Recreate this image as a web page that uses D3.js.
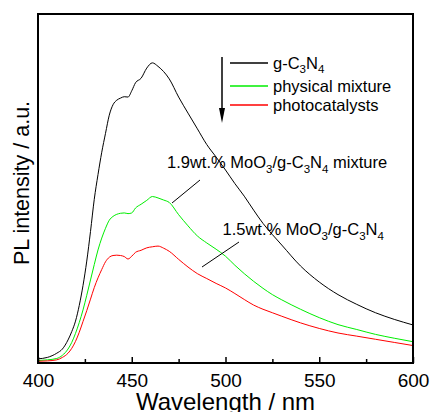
<!DOCTYPE html>
<html>
<head>
<meta charset="utf-8">
<script src="https://cdn.jsdelivr.net/npm/d3@7"></script>
<style>
  body { margin: 0; background: #fff; }
  svg { display: block; }
  text { font-family: "Liberation Sans", Arial, sans-serif; }
</style>
</head>
<body>
<svg id="chart" width="432" height="412"></svg>
<script>
// wavelength samples (nm)
const wavelength = [400, 405, 410, 413, 416, 418, 420, 422, 424, 426, 428, 430, 432, 434, 436, 438, 440, 442, 444, 446, 448, 450, 452, 455, 458, 461, 464, 467, 470, 475, 480, 485, 490, 495, 500, 505, 510, 515, 520, 525, 530, 540, 550, 560, 570, 580, 590, 600];

// PL intensity (a.u., 0..100 = frame height)
const gC3N4 = [1.2, 1.6, 2.8, 4.0, 6.6, 9.0, 12.0, 16.5, 22.2, 29.2, 37.7, 46.9, 54.0, 60.4, 65.8, 71.0, 74.0, 75.3, 75.9, 76.3, 76.2, 78.0, 80.3, 81.6, 84.5, 86.0, 85.0, 83.5, 81.4, 76.2, 71.6, 67.1, 62.6, 59.0, 55.3, 51.4, 47.8, 43.8, 40.0, 36.8, 33.8, 27.8, 23.2, 19.6, 16.8, 14.4, 12.5, 10.9];
const physicalMixture = [0.7, 0.9, 1.3, 2.2, 4.0, 5.9, 8.5, 11.6, 15.2, 19.4, 23.8, 28.2, 32.4, 35.8, 38.6, 40.9, 42.0, 42.6, 42.9, 43.0, 42.8, 43.0, 44.4, 45.5, 46.6, 47.7, 47.3, 46.7, 46.0, 42.5, 39.3, 36.4, 34.4, 32.6, 30.6, 28.0, 25.6, 23.4, 21.4, 19.6, 18.1, 15.4, 13.0, 11.0, 9.6, 8.2, 7.1, 6.1];
const photocatalysts = [0.5, 0.6, 0.9, 1.6, 2.8, 4.2, 6.2, 8.8, 11.9, 15.0, 18.3, 21.6, 24.4, 26.8, 29.0, 30.3, 30.8, 30.9, 30.8, 30.5, 29.8, 30.6, 31.7, 32.3, 33.0, 33.3, 33.5, 32.9, 32.0, 29.7, 27.5, 25.6, 24.2, 22.8, 21.5, 19.9, 18.2, 16.6, 15.4, 14.4, 13.4, 11.5, 9.9, 8.6, 7.7, 6.8, 5.9, 5.0];

const seriesNames = ["g-C3N4", "physical mixture", "photocatalysts"];
const seriesColors = ["#000000", "#00ee00", "#ff0000"];
const majorTicks = [400, 450, 500, 550, 600];
const minorTicks = [425, 475, 525, 575];

const svg = d3.select("#chart");
const mLeft = 38, mRight = 413, mTop = 14, mBottom = 363;
const FONT = "Liberation Sans, Arial, sans-serif";

const x = d3.scaleLinear().domain([400, 600]).range([mLeft, mRight]);
const y = d3.scaleLinear().domain([0, 100]).range([mBottom, mTop]);

// curves
const line = d3.line()
  .x((d, i) => x(wavelength[i]))
  .y(d => y(d))
  .curve(d3.curveMonotoneX);

[gC3N4, physicalMixture, photocatalysts].forEach((vals, k) => {
  svg.append("path")
    .attr("d", line(vals))
    .attr("fill", "none")
    .attr("stroke", seriesColors[k])
    .attr("stroke-width", 1)
    .attr("stroke-linejoin", "round");
});

// x axis, ticks pointing inward
const gx = svg.append("g").attr("transform", `translate(0,${mBottom})`)
  .call(d3.axisBottom(x).tickValues(majorTicks).tickSize(-6).tickPadding(11).tickFormat(d3.format("d")));
gx.select(".domain").remove();
gx.selectAll("line").attr("stroke", "#000").attr("stroke-width", 1.5);
gx.selectAll("text").attr("font-size", 19).attr("fill", "#000").attr("font-family", FONT);

const gm = svg.append("g").attr("transform", `translate(0,${mBottom})`)
  .call(d3.axisBottom(x).tickValues(minorTicks).tickSize(-4).tickFormat(""));
gm.select(".domain").remove();
gm.selectAll("line").attr("stroke", "#000").attr("stroke-width", 1.5);

// frame
svg.append("rect")
  .attr("x", mLeft).attr("y", mTop)
  .attr("width", mRight - mLeft).attr("height", mBottom - mTop)
  .attr("fill", "none").attr("stroke", "#000").attr("stroke-width", 2);

// axis titles
svg.append("text")
  .attr("x", (mLeft + mRight) / 2).attr("y", 409.5)
  .attr("text-anchor", "middle").attr("font-size", 24).attr("font-family", FONT)
  .text("Wavelength / nm");

svg.append("text")
  .attr("transform", `translate(28.5,183) rotate(-90)`)
  .attr("text-anchor", "middle").attr("font-size", 21.5).attr("font-family", FONT)
  .text("PL intensity / a.u.");

// text with subscripts: parts = [[text, isSub], ...]
function richText(g, px, py, parts, size) {
  const t = g.append("text").attr("x", px).attr("y", py)
    .attr("font-size", size).attr("font-family", FONT);
  let sub = false;
  parts.forEach(([s, isSub]) => {
    const ts = t.append("tspan").text(s);
    if (isSub) ts.attr("font-size", size * 0.7);
    if (isSub && !sub) ts.attr("dy", 4.5);
    else if (!isSub && sub) ts.attr("dy", -4.5);
    sub = isSub;
  });
  return t;
}

// legend with arrow
const legendY = [63, 86, 105];
const lg = svg.append("g");
lg.append("line").attr("x1", 222).attr("x2", 222).attr("y1", 57).attr("y2", 110)
  .attr("stroke", "#000").attr("stroke-width", 1.5);
lg.append("path").attr("d", "M219,108 L225,108 L222,123 Z").attr("fill", "#000");

const legendLabels = [
  [["g-C", false], ["3", true], ["N", false], ["4", true]],
  [["physical mixture", false]],
  [["photocatalysts", false]]
];
seriesNames.forEach((name, i) => {
  lg.append("line").attr("x1", 230).attr("x2", 268)
    .attr("y1", legendY[i]).attr("y2", legendY[i])
    .attr("stroke", seriesColors[i]).attr("stroke-width", 1.3);
  richText(lg, 273, legendY[i] + 5.5, legendLabels[i], 16.5);
});

// annotations
richText(svg, 167, 168, [["1.9wt.% MoO", false], ["3", true], ["/g-C", false], ["3", true], ["N", false], ["4", true], [" mixture", false]], 16.5);
svg.append("line").attr("x1", 200).attr("y1", 180).attr("x2", 172).attr("y2", 203)
  .attr("stroke", "#000").attr("stroke-width", 1);

richText(svg, 222.5, 235, [["1.5wt.% MoO", false], ["3", true], ["/g-C", false], ["3", true], ["N", false], ["4", true]], 16.5);
svg.append("line").attr("x1", 239).attr("y1", 242).attr("x2", 202).attr("y2", 267)
  .attr("stroke", "#000").attr("stroke-width", 1);
</script>
</body>
</html>
